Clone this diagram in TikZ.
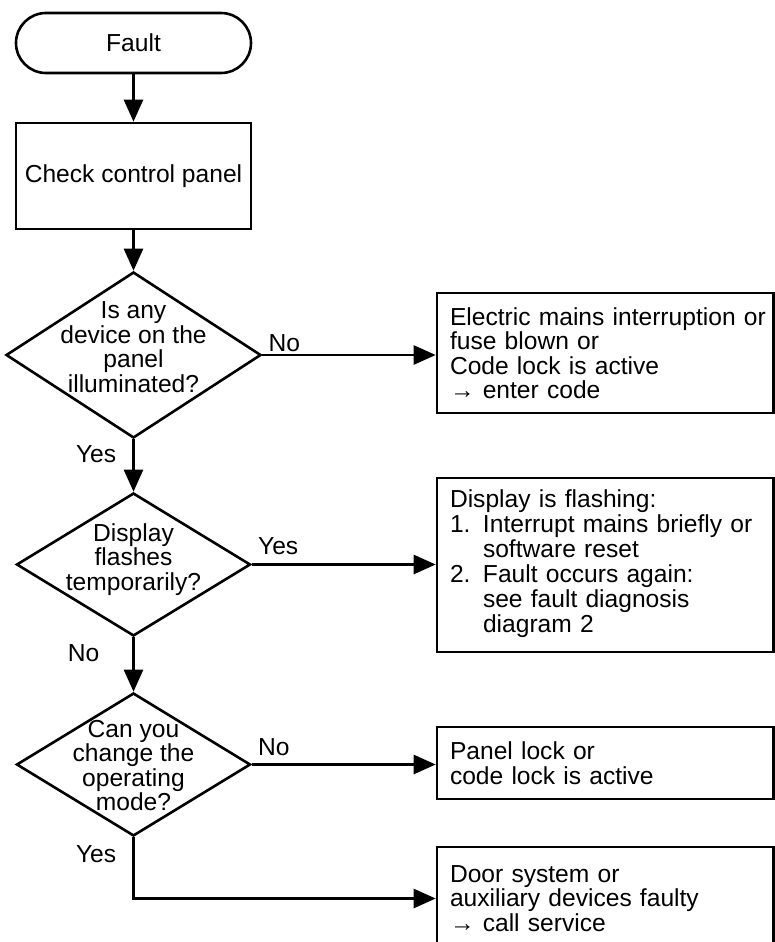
\documentclass[tikz,border=0pt]{standalone}
\usepackage{fontspec}
\setmainfont{Liberation Sans}
\usetikzlibrary{arrows.meta}
\usetikzlibrary{shapes.geometric,positioning}

\begin{document}
\begin{tikzpicture}[x=1pt, y=-1pt, line width=2.6pt,
		font=\fontsize{24.6}{24.5}\selectfont,
		terminal/.style={draw, rectangle, rounded corners=30pt, minimum width=235pt, minimum height=60pt},
		process/.style={draw, rectangle, minimum width=235pt, minimum height=106pt},
		decision/.style={draw, diamond, inner sep=0pt, minimum width=234pt, minimum height=143pt},
		result/.style={draw, rectangle, text width=310.5pt, align=left, inner xsep=13pt, inner ysep=0pt},
		answer/.style={inner sep=0pt},
		flow/.style={-{Triangle[length=22pt,width=19pt]}}]
		\useasboundingbox (0,0) rectangle (775,942);
		\clip (0,0) rectangle (775,942);
		% main column
		\node[terminal] (start) at (133.5,43) {Fault};
		\node[process] (check) at (133.5,176) {Check control panel};
		\node[decision, minimum width=255pt, minimum height=166pt,
			label={[align=center, yshift=8pt]center:Is any\\device on the\\panel\\illuminated?}] (q1) at (133.5,355) {};
		\node[decision, label={[align=center, yshift=5pt]center:Display\\flashes\\temporarily?}] (q2) at (133.5,564.5) {};
		\node[decision, label={[align=center, yshift=-1pt]center:Can you\\change the\\operating\\mode?}] (q3) at (133.5,764.5) {};
		% outcomes
		\node[result, minimum height=120pt] (r1) at (605.25,353)
			{\mbox{Electric mains interruption or}\\fuse blown or\\Code lock is active\\→ enter code};
		\node[result, minimum height=174pt] (r2) at (605.25,565)
			{Display is flashing:\\
			\begin{tabular}[t]{@{}p{33pt}@{}l@{}}
				1. & Interrupt mains briefly or\\
				   & software reset\\
				2. & Fault occurs again:\\
				   & see fault diagnosis\\
				   & diagram 2
			\end{tabular}};
		\node[result, minimum height=72pt] (r3) at (605.25,763)
			{Panel lock or\\code lock is active};
		\node[result, minimum height=103pt] (r4) at (605.25,898.5)
			{Door system or\\auxiliary devices faulty\\→ call service};
		% connectors
		\draw[flow] (start) -- (check);
		\draw[flow] (check) -- (q1);
		\draw[flow] (q1) -- (q2);
		\draw[flow] (q2) -- (q3);
		\foreach \q/\r in {q1/r1, q2/r2, q3/r3} {
			\draw[flow] (\q.east) -- (\q.east -| \r.west);
		}
		\draw[flow] (q3.south) |- (r4.west);
		% answers
		\node[answer, anchor=base west, xshift=5pt, yshift=4pt] (q1no) at (q1.east) {No};
		\node[answer, anchor=base east, xshift=-16pt, yshift=-23pt] (q1yes) at (q1.south) {Yes};
		\node[answer, anchor=base west, xshift=5pt, yshift=10pt] (q2yes) at (q2.east) {Yes};
		\node[answer, anchor=base east, xshift=-33pt, yshift=-24pt] (q2no) at (q2.south) {No};
		\node[answer, anchor=base west, xshift=5pt, yshift=9pt] (q3no) at (q3.east) {No};
		\node[answer, anchor=base east, xshift=-16pt, yshift=-25pt] (q3yes) at (q3.south) {Yes};
	\end{tikzpicture}
\end{document}
